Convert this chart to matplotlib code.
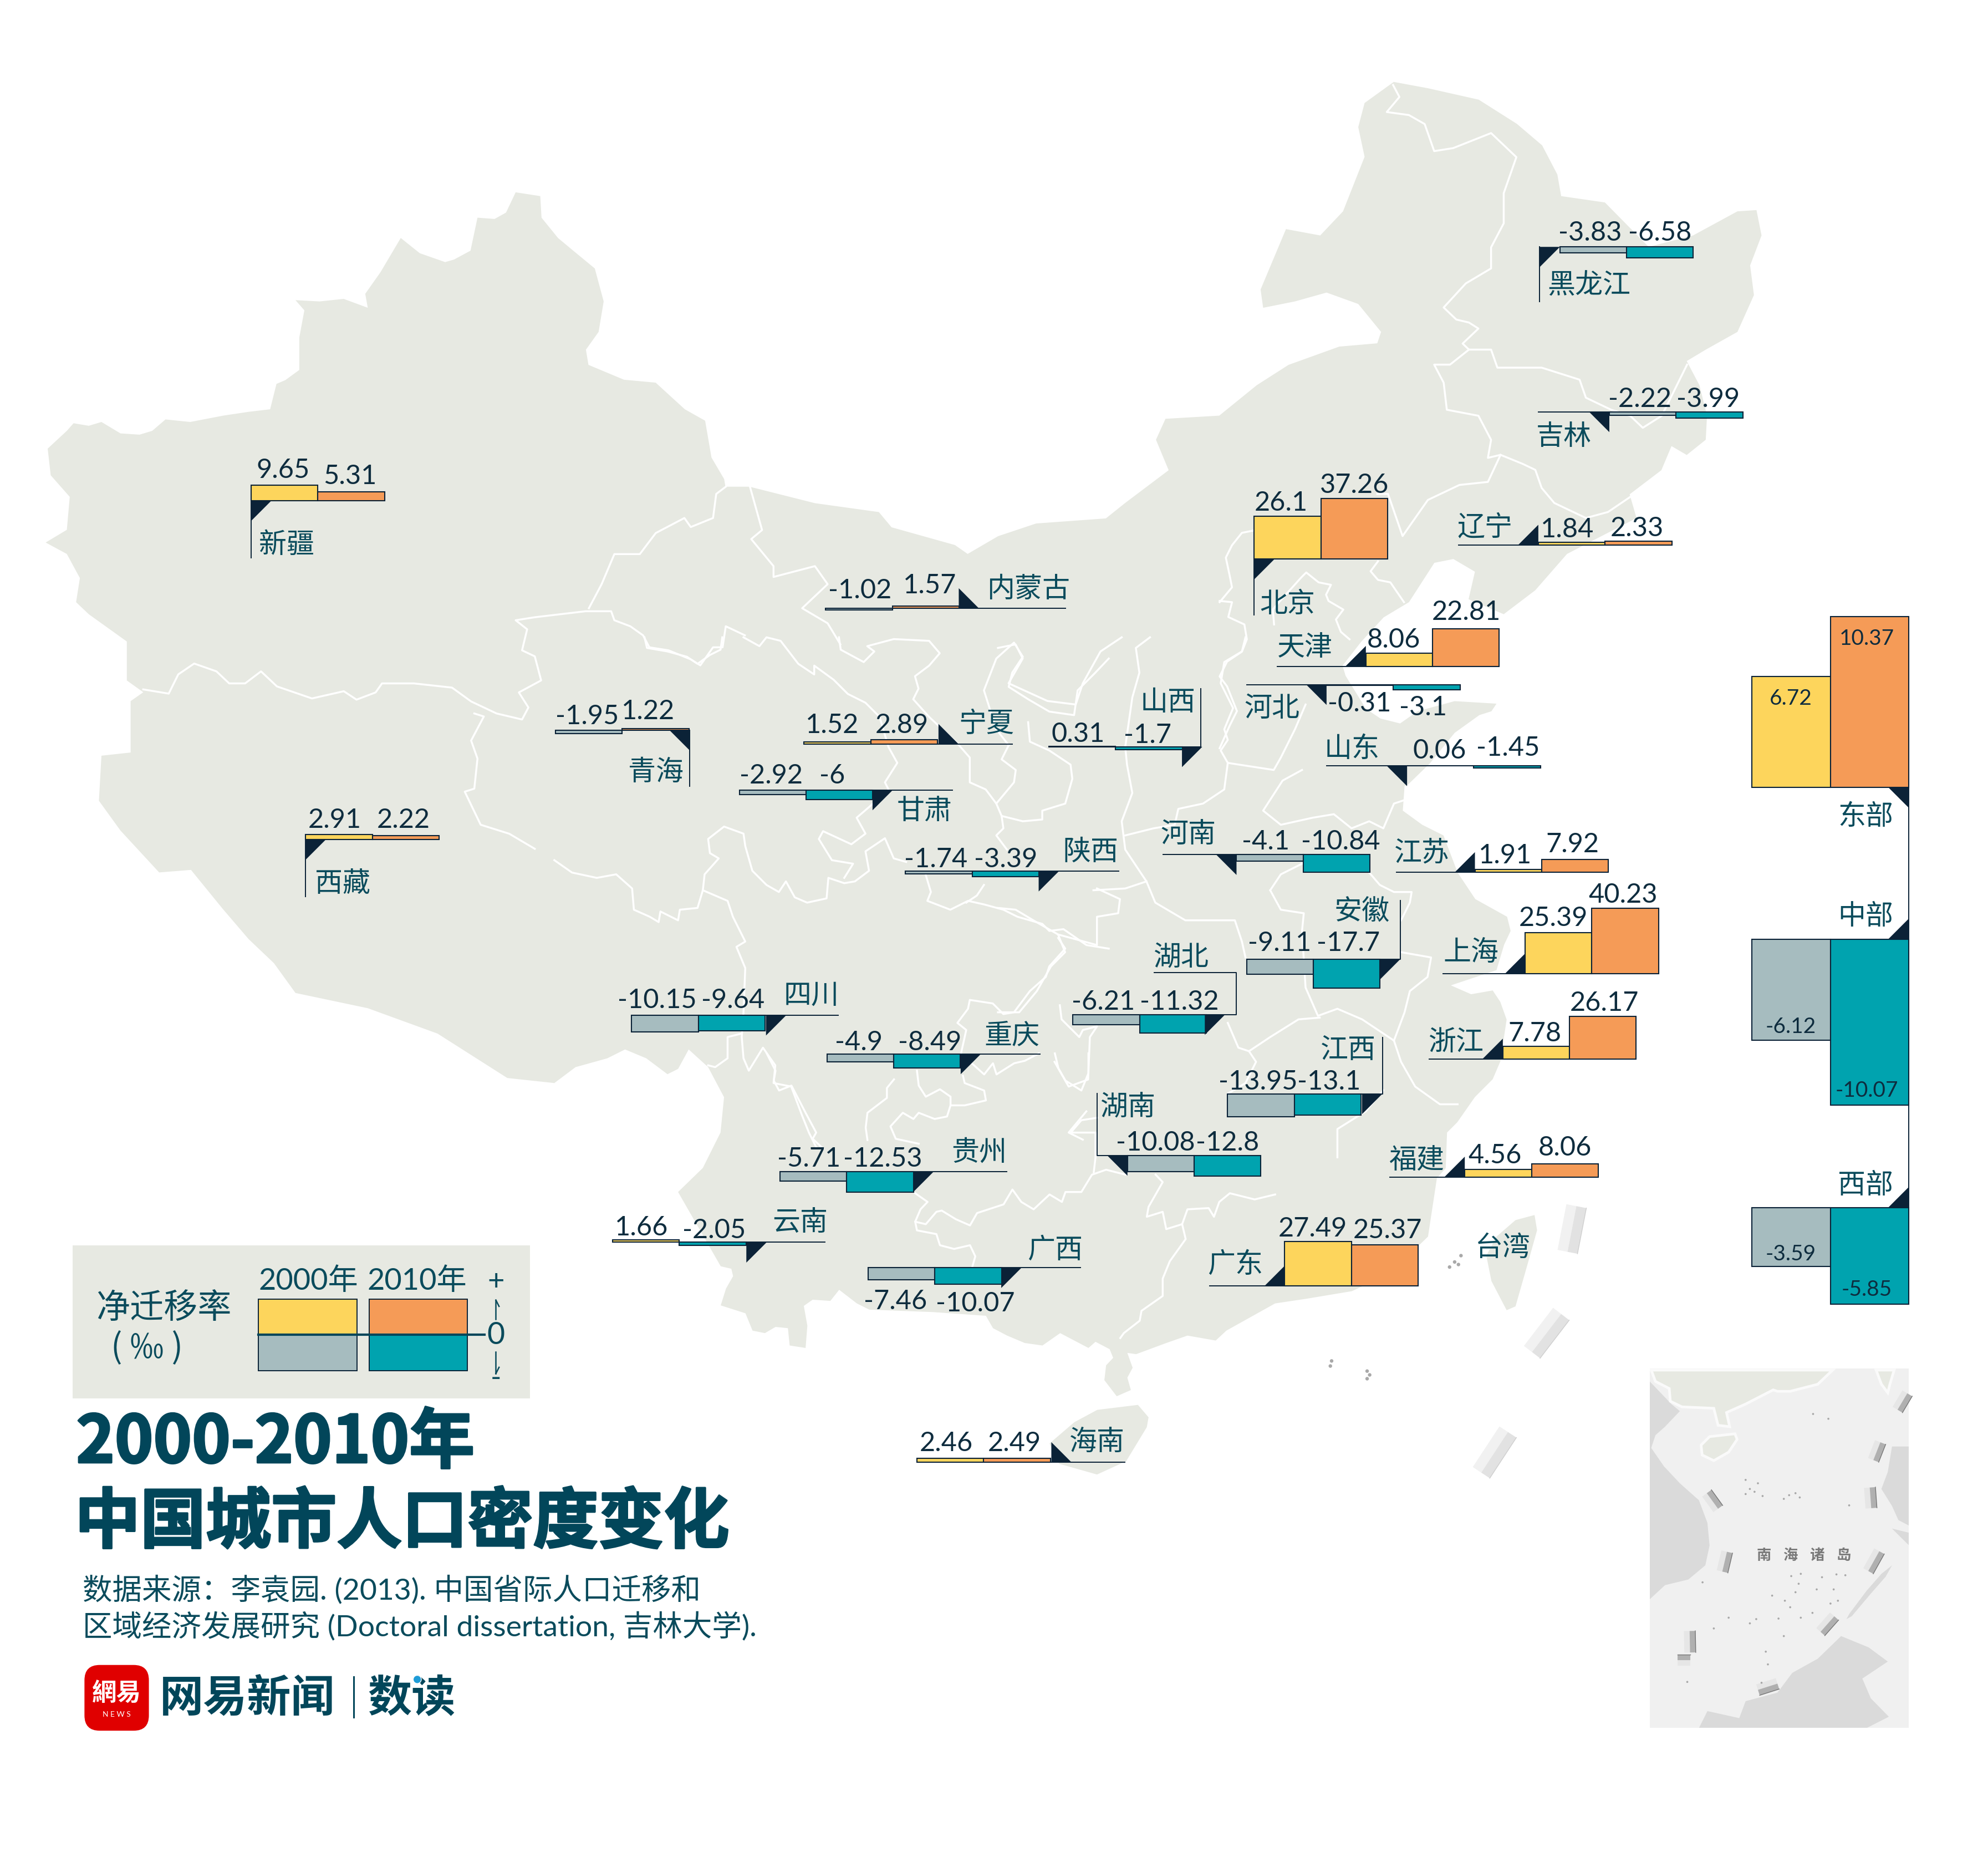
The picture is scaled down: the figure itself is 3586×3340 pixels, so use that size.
#%% import modules
import matplotlib
matplotlib.use('Agg')
import matplotlib.pyplot as plt
import matplotlib.patheffects as pe
from matplotlib.patches import FancyBboxPatch, Polygon, Rectangle, Circle

plt.rcParams['font.family'] = ['Lato', 'Noto Sans CJK SC', 'DejaVu Sans']

# %% data
provinces = ['新疆', '西藏', '青海', '甘肃', '宁夏', '内蒙古', '陕西', '山西', '河北', '天津',
             '北京', '辽宁', '吉林', '黑龙江', '山东', '河南', '江苏', '安徽', '上海', '湖北',
             '四川', '重庆', '江西', '湖南', '贵州', '云南', '广西', '广东', '海南', '福建', '浙江']
rate_2000 = [9.65, 2.91, -1.95, -2.92, 1.52, -1.02, -1.74, 0.31, -0.31, 8.06,
             26.1, 1.84, -2.22, -3.83, 0.06, -4.1, 1.91, -9.11, 25.39, -6.21,
             -10.15, -4.9, -13.95, -10.08, -5.71, 1.66, -7.46, 27.49, 2.46, 4.56, 7.78]
rate_2010 = [5.31, 2.22, 1.22, -6, 2.89, 1.57, -3.39, -1.7, -3.1, 22.81,
             37.26, 2.33, -3.99, -6.58, -1.45, -10.84, 7.92, -17.7, 40.23, -11.32,
             -9.64, -8.49, -13.1, -12.8, -12.53, -2.05, -10.07, 25.37, 2.49, 8.06, 26.17]
regions = ['东部', '中部', '西部']
region_2000 = [6.72, -6.12, -3.59]
region_2010 = [10.37, -10.07, -5.85]

# %% layout: bar x, baseline, triangle (x, y, dx, dy), leader line, name xy, label xys
T = 16
layout = {
    '新疆': (198, 395, (198, 395, T, T), [(198, 395), (198, 440)], (226, 428), (223, 369), (276, 374)),
    '西藏': (241, 662, (241, 662, T, T), [(241, 662), (241, 707)], (270, 695), (264, 645), (318, 645)),
    '青海': (438, 576, (544, 576, -T, T), [(544, 576), (544, 620)], (517, 607), (463, 563), (511, 559)),
    '甘肃': (583, 623, (688, 623, T, T), [(688, 623), (751, 623)], (729, 638), (608, 610), (656, 610)),
    '宁夏': (634, 587, (740, 587, T, -T), [(740, 587), (798, 587)], (778, 569), (656, 570), (711, 570)),
    '内蒙古': (651, 480, (756, 480, T, -T), [(756, 480), (840, 480)], (811, 463), (678, 464), (733, 460)),
    '陕西': (714, 687, (819, 687, T, T), [(819, 687), (882, 687)], (860, 670), (738, 676), (793, 676)),
    '山西': (827, 589, (932, 589, T, T), [(932, 589), (947, 589), (947, 543)], (921, 552), (850, 577), (905, 578)),
    '河北': (1046, 540, (1046, 540, -T, T), [(983, 540), (1046, 540)], (1003, 557), (1072, 553), (1122, 556)),
    '天津': (1077, 525.5, (1077, 525.5, -T, -T), [(1007, 525.5), (1077, 525.5)], (1029, 509), (1099, 503), (1156, 481)),
    '北京': (989, 441, (989, 441, T, T), [(989, 441), (989, 485)], (1015, 475), (1010, 395), (1068, 381)),
    '辽宁': (1213, 430, (1213, 430, -T, -T), [(1150, 430), (1213, 430)], (1171, 414), (1236, 416), (1291, 415)),
    '吉林': (1269, 325, (1269, 325, -T, T), [(1213, 325), (1269, 325)], (1233, 343), (1293, 313), (1347, 313)),
    '黑龙江': (1230, 195, (1214, 195, T, T), [(1214, 195), (1214, 238)], (1253, 224), (1254, 182), (1309, 182)),
    '山东': (1109.5, 604, (1109.5, 604, -T, T), [(1046, 604), (1109.5, 604)], (1066, 589), (1135, 590), (1189, 588)),
    '河南': (975, 674, (975, 674, -T, T), [(917, 674), (975, 674)], (937, 656), (998, 662), (1057, 662)),
    '江苏': (1163, 688, (1163, 688, -T, -T), [(1101, 688), (1163, 688)], (1121, 671), (1187, 673), (1240, 664)),
    '安徽': (983, 756.5, (1088, 756.5, T, T), [(1088, 756.5), (1104, 756.5), (1104, 710)], (1074, 717), (1009, 742), (1063, 742)),
    '上海': (1202.5, 768, (1202.5, 768, -T, -T), [(1138, 768), (1202.5, 768)], (1160, 749), (1225, 722), (1280, 704)),
    '湖北': (846, 800, (950, 800, T, T), [(950, 800), (975, 800), (975, 767), (910, 767)], (931, 753), (870, 788), (930, 788)),
    '四川': (498, 800.5, (604, 800.5, T, T), [(604, 800.5), (661, 800.5)], (640, 783), (518, 787), (578, 787)),
    '重庆': (652, 831, (757.5, 831, T, T), [(757.5, 831), (820, 831)], (798, 815), (677, 820), (733, 820)),
    '江西': (968, 862.5, (1074, 862.5, T, T), [(1074, 862.5), (1090, 862.5), (1090, 818)], (1063, 826), (992, 851), (1048, 851)),
    '湖南': (889, 911, (889, 911, -T, T), [(889, 911), (865, 911), (865, 862)], (889, 871), (911, 899), (968, 899)),
    '贵州': (615, 924, (720, 924, T, T), [(720, 924), (794, 924)], (772, 907), (638, 912), (696, 912)),
    '云南': (483, 979.5, (588.5, 979.5, T, T), [(588.5, 979.5), (650.5, 979.5)], (631, 962), (506, 966), (563, 968)),
    '广西': (684.5, 999.5, (789.5, 999.5, T, T), [(789.5, 999.5), (852, 999.5)], (832, 984), (706, 1024), (769, 1026)),
    '广东': (1013, 1014, (1013, 1014, -T, -T), [(954, 1014), (1013, 1014)], (974, 995), (1035, 967), (1094, 968)),
    '海南': (723, 1153, (829, 1153, T, -T), [(829, 1153), (887, 1153)], (865, 1135), (746, 1136), (800, 1136)),
    '福建': (1155, 928, (1155, 928, -T, -T), [(1096, 928), (1155, 928)], (1117, 913), (1179, 909), (1234, 903)),
    '浙江': (1185, 835, (1185, 835, -T, -T), [(1127, 835), (1185, 835)], (1148, 820), (1210, 813), (1265, 789)),
}
region_layout = {
    '东部': (621, (1505, 621, -T, T), (1471, 642), (1412, 549), (1472, 502)),
    '中部': (740.5, (1505, 740.5, -T, -T), (1471, 721), (1412, 808), (1472, 858)),
    '西部': (952, (1505, 952, -T, -T), (1471, 933), (1412, 987), (1472, 1015)),
}
bar_w = 52.6
bar_k = 1.285
region_w = 61.8
region_k = 13


# %% map shapes, traced on crops of the picture
def crop1(p):
    return [(x * .502, 43.7 + y * .474) for x, y in p]


def crop2(p):
    return [(786.9 + x * .4985, 43.7 + y * .474) for x, y in p]


def crop7(p):
    return [(961.7 + x * .1951, 371.6 + y * .1951) for x, y in p]


def crop_a(p):
    return [(437.1 + x * .2788, 502.7 + y * .2788) for x, y in p]


def crop_b(p):
    return [(786.9 + x * .2788, 502.7 + y * .2788) for x, y in p]


def crop_c(p):
    return [(568.3 + x * .2788, 830.6 + y * .1951) for x, y in p]


def crop_inset(p):
    return [(1267.7 + x * .1673, 1049 + y * .223) for x, y in p]


outline = [
    (37.6, 354), (52.7, 340), (58, 334), (70, 336), (80, 333), (95, 342), (110, 343), (120, 340), (130.5, 331), (150, 333), (176, 328),
    (196, 325), (213, 323), (218, 303), (225, 300), (236, 292), (236, 266.5), (240, 245), (233, 237), (252, 238), (271, 236), (290, 243),
    (288, 232), (300, 215), (316, 188), (331, 200), (351, 207), (358, 205), (371, 198), (376.5, 172), (390, 173), (399, 168), (406.6, 152),
    (426, 155), (427, 172), (440, 188), (452, 198), (469, 212), (476, 238), (472, 262), (462, 276), (464, 288), (492, 299.7), (517, 302),
    (540, 323), (556, 332), (561, 361), (571, 378), (572, 384), (591, 384), (642.6, 397), (693, 404), (703, 416), (753, 430), (763, 437),
    (787, 423), (817, 413), (872, 409), (887, 397), (921.5, 371), (911.5, 347), (919, 330.5), (961.4, 328), (991, 304), (1016, 288),
    (1056, 273.6), (1086, 271), (1089, 262), (1071, 240), (1046, 231), (1021, 238), (996, 243), (994, 228.6), (1014, 181), (1041, 186),
    (1059, 167), (1076, 124), (1071, 100.6), (1076, 81.6), (1099, 65), (1126, 70), (1166, 79), (1196, 98), (1216, 115), (1228, 138),
    (1231, 155), (1265.5, 160), (1300, 195), (1335, 186), (1370, 167), (1385, 166), (1389, 186), (1380, 209.6), (1383, 233), (1370, 262),
    (1345, 276), (1330, 285), (1340, 304), (1346, 328), (1345, 347), (1330, 359), (1318, 352), (1310, 371), (1285, 390), (1290.4, 408.7),
    (1235.6, 437), (1210.6, 465.6), (1185.7, 484.5), (1158, 472.7), (1163, 451), (1146, 441), (1131, 444), (1111, 475), (1091, 487),
    (1073.5, 506), (1058.6, 525), (1061, 533), (1077, 559), (1088.5, 566.7), (1104, 570.6), (1117.7, 561), (1147, 553), (1180, 555),
    (1176, 561), (1166.5, 564), (1147, 578), (1127.5, 602), (1110, 619),
] + crop_b([(1150, 420), (1145, 490), (1200, 530), (1260, 560), (1300, 665), (1350, 740), (1440, 790), (1450, 830)]) + [
    (1186, 745), (1180, 765), (1144, 777), (1160, 784), (1177, 781), (1183, 790), (1188, 804), (1183, 837),
    (1177, 851), (1163, 865), (1149, 885), (1141, 893), (1140, 921), (1133, 929), (1126, 975), (1096, 1004), (1066, 1018), (1030, 1024),
] + crop_c([(1568, 1010), (1430, 1120), (1400, 1160), (1320, 1140), (1260, 1170), (1175, 1215), (1150, 1210), (1165, 1270), (1150, 1310),
            (1160, 1360), (1120, 1385), (1085, 1320), (1090, 1260), (1110, 1230), (1100, 1195), (1060, 1165), (1040, 1190), (1000, 1160),
            (960, 1130), (910, 1180), (860, 1170), (810, 1140), (770, 1110), (750, 1060), (600, 1045), (420, 1035), (385, 1010), (335, 955),
            (310, 1000), (260, 995), (235, 1020), (245, 1100), (240, 1190), (195, 1180), (190, 1110), (155, 1105), (125, 1130), (90, 1120),
            (70, 1050), (0, 1018), (15, 950), (35, 900), (30, 870), (0, 860)]) + crop_a([
                (350, 1568), (420, 1500), (470, 1400), (480, 1300), (435, 1215), (380, 1165), (350, 1220), (320, 1235), (260, 1190),
                (200, 1165), (150, 1190), (60, 1215), (0, 1260)]) + [
    (400, 850), (345, 815), (290, 795), (233, 783), (216, 759.5), (196, 740.5), (175.7, 716.8), (150.6, 686), (125.5, 688), (95, 655),
    (78, 631.5), (80, 596), (103, 593.5), (103, 553), (113, 546), (100, 536.7), (100, 506), (70, 484.5), (60, 475), (63, 456), (52.7, 437),
    (36, 428), (52.7, 418), (55, 392), (40, 375),
]
taiwan = [(1195, 962), (1210, 958), (1212, 970), (1205, 995), (1195, 1030), (1188, 1033), (1176, 1010), (1172, 990), (1180, 975)]
hainan = crop_c([(1000, 1490), (1065, 1440), (1180, 1420), (1210, 1470), (1205, 1510)]) + [(888, 1152), (865, 1162.5), (835, 1154), (827.6, 1138)]

borders = [
    crop1([(225, 1055), (265, 1062), (280, 1030), (305, 1012), (340, 1025), (360, 1045), (385, 1045), (410, 1025),
           (435, 1050), (490, 1070), (540, 1058), (560, 1072), (590, 1060), (600, 1045), (650, 1045), (710, 1052),
           (740, 1075), (780, 1095), (820, 1105), (830, 1085), (815, 1060), (850, 1040), (840, 1000), (820, 990),
           (828, 955), (810, 940), (840, 935), (920, 925), (960, 925), (965, 940), (990, 950), (1010, 965),
           (1020, 985), (1050, 990), (1085, 1005), (1100, 1015), (1120, 985), (1135, 985), (1140, 950), (1170, 965)]),
    crop1([(925, 920), (945, 880), (965, 830), (1005, 830), (1030, 795), (1075, 770), (1085, 785), (1120, 770),
           (1125, 730), (1140, 718)]),
    crop1([(1178, 718), (1197, 790), (1180, 805), (1215, 850), (1215, 868), (1280, 850), (1300, 880), (1260, 920),
           (1300, 945), (1320, 980)]),
    crop1([(745, 1095), (760, 1100), (740, 1140), (750, 1170), (745, 1220), (730, 1225), (755, 1280), (800, 1295), (840, 1320)]),
    # middle of the map
    crop_a([(255, 0), (262, 30), (320, 40), (375, 55), (405, 75), (440, 50), (470, 35), (475, 0)]),
    crop_a([(535, 0), (580, 25), (600, 0), (640, 10), (690, 75), (735, 105), (735, 80), (790, 120), (830, 160), (880, 185), (920, 225),
            (945, 310), (970, 355), (935, 410), (945, 430), (890, 480), (855, 510), (880, 555), (840, 585), (760, 548), (748, 570),
            (785, 630), (845, 640), (820, 680)]),
    crop_a([(0, 630), (50, 665), (120, 680), (175, 670), (220, 710), (225, 770), (270, 790), (295, 805), (300, 775), (350, 800), (355, 770),
            (405, 765), (420, 715), (425, 670), (465, 625), (440, 610), (435, 570), (480, 535), (535, 555), (540, 590), (560, 660),
            (600, 700), (635, 720), (655, 690), (680, 735), (715, 750), (770, 738), (775, 680), (820, 695), (850, 690), (890, 660),
            (880, 605), (935, 568), (960, 625), (995, 635)]),
    crop_a([(420, 715), (490, 745), (505, 790), (540, 860), (515, 875), (540, 935), (535, 1060), (530, 1130), (535, 1190), (550, 1225),
            (590, 1160), (625, 1210), (620, 1260), (670, 1270), (700, 1350), (720, 1400), (740, 1440)]),
    crop_a([(530, 1120), (490, 1130), (490, 1190), (455, 1215), (435, 1210)]),
    crop_a([(1050, 670), (1065, 720), (1055, 745), (1120, 770), (1170, 745), (1215, 755), (1270, 770), (1310, 790), (1380, 810), (1400, 830),
            (1440, 825), (1505, 870), (1568, 880)]),
    crop_a([(1215, 700), (1195, 730), (1165, 750)]),
    crop_a([(1425, 850), (1445, 880), (1400, 930), (1390, 960), (1345, 1000), (1300, 1060), (1270, 1065), (1240, 1035), (1175, 1025),
            (1170, 1050), (1140, 1090), (1165, 1110), (1150, 1177)]),
    crop_a([(805, 0), (810, 35), (875, 70), (905, 40), (885, 25), (960, 5), (1060, 10), (1090, 45), (1060, 80), (1020, 110), (1030, 145),
            (1015, 175), (1060, 225), (1140, 300), (1175, 340), (1175, 410), (1220, 430), (1250, 470), (1300, 410), (1305, 375),
            (1265, 345), (1285, 305)]),
    crop_a([(1285, 305), (1250, 260), (1215, 150), (1250, 60), (1300, 15), (1325, 55), (1295, 100), (1285, 140), (1340, 175), (1400, 210),
            (1470, 220), (1480, 150), (1530, 100), (1568, 60)]),
    crop_a([(1340, 240), (1345, 295), (1400, 320), (1460, 360), (1465, 400), (1445, 470), (1380, 490), (1380, 515), (1325, 520), (1265, 505),
            (1270, 540), (1250, 560), (1280, 600)]),
    crop_a([(1250, 470), (1265, 505)]),
    crop_c([(130, 0), (155, 70), (150, 110), (165, 150), (200, 130), (240, 240), (270, 320), (260, 345), (290, 385)]),
    crop_c([(490, 105), (470, 140), (470, 180), (415, 240), (410, 300), (415, 350)]),
    crop_c([(555, 70), (560, 130), (580, 175), (620, 145), (650, 175), (650, 210), (690, 210), (750, 190), (745, 150), (690, 120), (685, 90)]),
    crop_c([(650, 210), (640, 255), (605, 265), (560, 240), (545, 265), (515, 240), (480, 295), (495, 345), (560, 365)]),
    crop_c([(550, 565), (585, 600), (565, 630), (550, 680), (580, 690), (610, 640), (625, 635), (665, 670), (705, 695), (725, 645), (800, 610),
            (825, 550), (850, 600), (885, 630), (930, 570), (965, 600), (975, 560), (1020, 560), (1050, 490), (1090, 470), (1145, 490)]),
    crop_c([(550, 680), (555, 715), (610, 730), (620, 775), (660, 790), (705, 775), (720, 820), (710, 870)]),
    crop_c([(1230, 490), (1250, 520), (1210, 620), (1205, 660), (1250, 640), (1260, 710), (1305, 690), (1320, 630), (1380, 625), (1395, 660),
            (1410, 600), (1440, 565), (1510, 590), (1568, 570)]),
    crop_c([(1305, 690), (1315, 750), (1270, 840), (1250, 910), (1250, 980), (1190, 1040), (1185, 1080), (1140, 1130), (1130, 1150)]),
    crop_c([(945, 0), (955, 60), (975, 110), (1020, 150), (1040, 80), (1040, 0)]),
    crop_c([(1065, 260), (1020, 270), (990, 320), (1060, 320), (1060, 420), (1055, 480)]),
    crop_c([(710, 40), (745, 85), (770, 40), (780, 85), (830, 40), (860, 30), (900, 0)]),
    crop_b([(700, 0), (690, 40), (640, 70), (630, 130), (665, 200), (640, 260), (650, 290), (630, 320), (650, 355), (780, 375), (800, 340),
            (840, 260), (870, 190)]),
    crop_b([(650, 355), (640, 430), (580, 470), (510, 485), (500, 530), (440, 540), (360, 560)]),
    crop_b([(0, 30), (50, 20), (70, 60), (30, 130), (140, 180), (220, 190), (240, 130), (290, 40), (350, 0)]),
    crop_b([(430, 0), (390, 30), (400, 100), (380, 170), (360, 310), (365, 360), (380, 440), (350, 520), (360, 600), (420, 690), (445, 750),
            (530, 800), (670, 800), (690, 860), (700, 905)]),
    crop_b([(770, 715), (800, 670), (860, 640)]),
    crop_b([(770, 715), (800, 770), (865, 780), (860, 830), (870, 990), (905, 1070), (960, 1050), (1030, 1080), (1060, 1100), (1120, 1140),
            (1140, 1200), (1180, 1270), (1250, 1320), (1300, 1320)]),
    crop_b([(1050, 665), (1080, 700), (1120, 720), (1170, 720), (1165, 750), (1140, 800)]),
    crop_b([(860, 375), (805, 405), (750, 490), (800, 530), (890, 510), (950, 500), (1000, 540), (1050, 520), (1090, 540), (1120, 470), (1150, 460)]),
    crop_b([(1140, 890), (1225, 905), (1215, 960), (1165, 1000), (1150, 1060), (1120, 1140)]),
    crop_b([(280, 710), (345, 740), (340, 780), (280, 790), (280, 870), (170, 840), (190, 890), (150, 930), (110, 1000), (60, 1060), (0, 1060)]),
    crop_b([(0, 765), (50, 770), (100, 800), (170, 840)]),
    crop_b([(270, 715), (360, 710), (420, 690)]),
    crop_b([(175, 1040), (180, 1080), (230, 1130), (240, 1110), (280, 1100), (260, 1130), (255, 1250), (200, 1270), (160, 1200)]),
    crop_b([(650, 1090), (680, 1160), (710, 1170), (770, 1130), (850, 1080), (910, 1075)]),
    crop_b([(710, 1170), (730, 1200), (700, 1260), (650, 1290)]),
    crop_b([(1090, 1280), (1040, 1340), (960, 1390), (960, 1470)]),
    crop_b([(250, 1340), (200, 1400), (240, 1420)]),
    # north east
    crop2([(625, 50), (635, 70), (615, 95), (650, 100), (675, 115), (690, 160), (720, 155), (780, 130), (820, 170),
           (800, 230), (800, 280), (780, 320), (780, 355), (740, 380), (705, 420), (725, 440), (745, 445), (760, 455),
           (735, 480), (745, 490), (780, 490), (790, 520), (860, 520), (890, 530), (920, 540), (930, 570), (970, 590),
           (1000, 600), (1020, 620), (1050, 600), (1090, 515)]),
    crop2([(745, 490), (715, 515), (690, 515), (705, 545), (710, 590), (760, 600), (780, 640), (775, 670), (795, 665),
           (830, 680), (850, 690), (860, 720), (880, 745), (930, 770), (965, 760), (1000, 735)]),
    crop2([(795, 665), (775, 710), (730, 715), (680, 740), (640, 800), (617, 730), (600, 730)]),
    crop7([(140, 240), (90, 250), (50, 300), (25, 350), (40, 420), (50, 470), (0, 530)]),
    crop7([(640, 365), (610, 405), (640, 440), (690, 450), (745, 530)]),
    crop7([(220, 620), (215, 560), (240, 530), (330, 430), (350, 410), (400, 450), (450, 460), (430, 500), (440, 525),
           (500, 560), (470, 600), (490, 650), (525, 680)]),
    crop7([(0, 525), (50, 530), (35, 590), (100, 620), (110, 680), (90, 730), (30, 770), (0, 830), (30, 870), (70, 970),
           (40, 1030), (0, 1120)]),
]

inset_gray = [
    [(198, 180), (300, 260), (340, 285), (270, 340), (225, 370), (205, 415), (265, 480), (340, 540), (430, 600),
     (470, 680), (480, 760), (460, 830), (380, 880), (270, 900), (198, 950)],
    [(430, 1405), (470, 1345), (620, 1370), (650, 1310), (800, 1280), (870, 1210), (990, 1160), (1100, 1080),
     (1230, 1120), (1320, 1170), (1200, 1230), (1240, 1300), (1325, 1365), (1220, 1405)],
    [(1421, 410), (1340, 410), (1320, 500), (1290, 560), (1340, 620), (1370, 670), (1421, 690)],
    [(1340, 830), (1290, 860), (1220, 920), (1140, 1000), (1125, 1020), (1150, 1010), (1240, 930), (1310, 870)],
    [(1340, 700), (1421, 715), (1421, 760), (1380, 730)],
]
inset_land = [
    [(205, 140), (225, 180), (290, 205), (295, 250), (350, 270), (500, 275), (520, 335), (575, 340), (560, 290),
     (650, 260), (780, 210), (800, 215), (860, 215), (990, 190), (1060, 140)],
    [(440, 405), (480, 375), (600, 365), (610, 385), (570, 430), (500, 460), (445, 440)],
    [(1265, 140), (1350, 140), (1330, 190), (1320, 220), (1290, 190)],
]
inset_dashes = [
    [(1412, 222), (1366, 280)], [(1285, 395), (1252, 458)], [(1235, 555), (1242, 628)], [(1280, 780), (1228, 850)],
    [(1068, 1010), (1003, 1065)], [(800, 1248), (708, 1270)], [(386, 1062), (388, 1138)], [(330, 1165), (390, 1165)],
    [(562, 782), (540, 852)], [(467, 575), (520, 630)],
]
inset_islets = [(968, 295), (1040, 312), (650, 528), (708, 540), (670, 560), (692, 570), (730, 585), (650, 578),
                (855, 582), (885, 575), (830, 595), (905, 590), (1138, 618), (447, 890), (775, 937), (985, 915),
                (1065, 915), (900, 895), (885, 925), (670, 1035), (700, 1020), (500, 1053), (570, 1015), (745, 1135),
                (755, 1180), (725, 1245), (375, 1242), (910, 1015), (805, 1018), (830, 1080), (1010, 872), (1078, 862),
                (1120, 865), (865, 868), (910, 860), (835, 955), (860, 978), (965, 998), (1050, 965), (1085, 955)]
main_dashes = [[(1243, 951), (1236, 987)], [(1231, 1036), (1208, 1066)], [(1189, 1129), (1168, 1161)]]
main_islets = [(1147, 995), (1152, 990), (1143, 999), (1150, 997), (1050, 1073), (1049, 1077), (1078, 1081), (1080, 1084), (1078, 1087)]

# %% colours
YELLOW = '#FDD55C'
ORANGE = '#F59B57'
GREY = '#A6BCBF'
TEAL = '#00A3AF'
DARK = '#0B2237'
INK = '#0E2C3E'
NAME = '#0A4B5C'
TITLE = '#02465A'
LAND = '#E7E9E2'

cjk = ['Noto Sans CJK SC', 'DejaVu Sans']
num = ['Lato', 'Noto Sans CJK SC', 'DejaVu Sans']

# %% figure
fig = plt.figure(figsize=(35.87, 33.41), dpi=100)
ax = fig.add_axes([0, 0, 1, 1])
ax.set_xlim(0, 1568)
ax.set_ylim(1460, 0)
ax.axis('off')


def draw_dash(p0, p1, width, zorder, light='#E6E6E6', mid='#B0B0B0', edge='#777777'):
    # one band of the boundary mark: pale half, grey half, thin dark rim
    (x0, y0), (x1, y1) = p0, p1
    length = ((x1 - x0) ** 2 + (y1 - y0) ** 2) ** .5
    nx, ny = -(y1 - y0) / length, (x1 - x0) / length
    for off, c in [(.5, light), (-.5, mid)]:
        o = off * width
        q = [(x0 + nx * (o - width / 2), y0 + ny * (o - width / 2)),
             (x1 + nx * (o - width / 2), y1 + ny * (o - width / 2)),
             (x1 + nx * (o + width / 2), y1 + ny * (o + width / 2)),
             (x0 + nx * (o + width / 2), y0 + ny * (o + width / 2))]
        ax.add_patch(Polygon(q, closed=True, fc=c, ec='none', zorder=zorder))
    ax.plot([x0 - nx * width, x1 - nx * width], [y0 - ny * width, y1 - ny * width], color=edge, lw=1, zorder=zorder)


# land
for shape in (outline, taiwan, hainan):
    ax.add_patch(Polygon(shape, closed=True, fc=LAND, ec='none', zorder=1))
for b in borders:
    xs, ys = zip(*b)
    ax.plot(xs, ys, color='white', lw=2.5, zorder=2, solid_joinstyle='round')
for d in main_dashes:
    draw_dash(d[0], d[1], 8, 1, light='#F1F1F1', mid='#E2E2E2', edge='#CFCFCF')
for x, y in main_islets:
    ax.add_patch(Circle((x, y), 1.4, fc='#A9A9A9', ec='none', zorder=2))


def draw_tri(tri):
    cx, cy, dx, dy = tri
    ax.add_patch(Polygon([(cx, cy), (cx + dx, cy), (cx, cy + dy)], closed=True, fc=DARK, ec='none', zorder=5))


def draw_label(xy, s, fs, color, fam, weight='normal'):
    ax.text(xy[0], xy[1] + 1.5, s, fontsize=fs, color=color, family=fam, weight=weight, ha='center', va='center', zorder=6)


# province bars
for name, v0, v1 in zip(provinces, rate_2000, rate_2010):
    x, base, tri, line, name_xy, lab0, lab1 = layout[name]
    xs, ys = zip(*line)
    ax.plot(xs, ys, color=DARK, lw=1.4, zorder=3)
    c0 = YELLOW if v0 >= 0 else GREY
    c1 = ORANGE if v1 >= 0 else TEAL
    ax.bar(x, -v0 * bar_k, width=bar_w, bottom=base, align='edge', color=c0, edgecolor=DARK, lw=1.5, zorder=4)
    ax.bar(x + bar_w, -v1 * bar_k, width=bar_w, bottom=base, align='edge', color=c1, edgecolor=DARK, lw=1.5, zorder=4)
    draw_tri(tri)
    draw_label(name_xy, name, 36, NAME, cjk)
    draw_label(lab0, f'{v0:g}', 35, INK, num)
    draw_label(lab1, f'{v1:g}', 35, INK, num)
draw_label((1185, 982), '台湾', 36, NAME, cjk)

# region bars
region_x = 1381.4
ax.plot([1505, 1505], [621, 1027], color=DARK, lw=1.4, zorder=3)
for name, v0, v1 in zip(regions, region_2000, region_2010):
    base, tri, name_xy, lab0, lab1 = region_layout[name]
    c0 = YELLOW if v0 >= 0 else GREY
    c1 = ORANGE if v1 >= 0 else TEAL
    ax.bar(region_x, -v0 * region_k, width=region_w, bottom=base, align='edge', color=c0, edgecolor=DARK, lw=1.5, zorder=4)
    ax.bar(region_x + region_w, -v1 * region_k, width=region_w, bottom=base, align='edge', color=c1, edgecolor=DARK, lw=1.5, zorder=4)
    draw_tri(tri)
    draw_label(name_xy, name, 36, NAME, cjk)
    draw_label(lab0, f'{v0:g}', 28, INK, num)
    draw_label(lab1, f'{v1:g}', 28, INK, num)

# legend
ax.add_patch(Rectangle((57.4, 981.8), 360.6, 120.7, fc=LAND, ec='none', zorder=1))
for x, w, c in [(203.6, 78, YELLOW), (291, 77.6, ORANGE)]:
    ax.add_patch(Rectangle((x, 1024.4), w, 28, fc=c, ec=DARK, lw=1.4, zorder=4))
for x, w, c in [(203.6, 78, GREY), (291, 77.6, TEAL)]:
    ax.add_patch(Rectangle((x, 1052.3), w, 28.4, fc=c, ec=DARK, lw=1.4, zorder=4))
ax.plot([203.6, 382], [1052.3, 1052.3], color=TITLE, lw=3, zorder=5)
draw_label((243, 1008), '2000年', 39, NAME, num)
draw_label((329, 1008), '2010年', 39, NAME, num)
draw_label((129, 1030), '净迁移率', 44, NAME, cjk)
draw_label((116, 1061), '( ‰ )', 44, NAME, cjk)
draw_label((391, 1009), '+', 38, NAME, num)
draw_label((391, 1051), '0', 40, NAME, num)
draw_label((391, 1085), '-', 38, NAME, num)
ax.plot([391, 391], [1025, 1040], color=NAME, lw=1.8, zorder=5)
ax.plot([391, 393.5], [1025, 1030], color=NAME, lw=1.8, zorder=5)
ax.plot([391, 391], [1066, 1083], color=NAME, lw=1.8, zorder=5)
ax.plot([391, 393.5], [1083, 1078], color=NAME, lw=1.8, zorder=5)

# title block
heavy = [pe.withStroke(linewidth=2.5, foreground=TITLE)]
ax.text(60, 1138, '2000-2010年', fontsize=85, color=TITLE, family=cjk, weight='black', ha='left', va='center', path_effects=heavy)
ax.text(59, 1201, '中国城市人口密度变化', fontsize=85, color=TITLE, family=cjk, weight='black', ha='left', va='center', path_effects=heavy)
ax.text(65, 1253, '数据来源：李袁园. (2013). 中国省际人口迁移和', fontsize=38.5, color=NAME, family=num, ha='left', va='center')
ax.text(65, 1282, '区域经济发展研究 (Doctoral dissertation, 吉林大学).', fontsize=38.5, color=NAME, family=num, ha='left', va='center')

# logo
ax.add_patch(FancyBboxPatch((75, 1321), 34, 35, boxstyle='round,pad=8.4,rounding_size=12', fc='#E00000', ec='none', zorder=3))
ax.text(92, 1335, '網易', fontsize=32, color='white', family=cjk, weight='bold', ha='center', va='center', zorder=4)
ax.text(92, 1351, 'N E W S', fontsize=10, color='white', family=num, ha='center', va='center', zorder=4)
ax.text(126, 1339, '网易新闻', fontsize=57, color=TITLE, family=cjk, weight='bold', ha='left', va='center')
ax.plot([279, 279], [1322, 1354], color=TITLE, lw=2.2)
ax.text(290, 1339, '数读', fontsize=57, color=TITLE, family=cjk, weight='bold', ha='left', va='center')
ax.add_patch(Circle((329, 1324), 3.2, fc='#1E9CD7', ec='white', lw=1, zorder=4))

# inset
ax.add_patch(Rectangle((1301, 1079), 204, 283, fc='#F0F0F0', ec='none', zorder=1))
clip = Rectangle((1301, 1079), 204, 283, transform=ax.transData)
for shape in inset_gray:
    p = Polygon(crop_inset(shape), closed=True, fc='#DADADA', ec='none', zorder=2)
    ax.add_patch(p)
    p.set_clip_path(clip)
for shape in inset_land:
    p = Polygon(crop_inset(shape), closed=True, fc=LAND, ec='#FAFAFA', lw=3.5, zorder=3)
    ax.add_patch(p)
    p.set_clip_path(clip)
for d in inset_dashes:
    p0, p1 = crop_inset(d)
    draw_dash(p0, p1, 4.5, 3)
for x, y in crop_inset(inset_islets):
    ax.add_patch(Circle((x, y), .8, fc='#A8A8A8', ec='none', zorder=3))
for ch, x in zip('南海诸岛', [1390.7, 1411.6, 1432.5, 1453.7]):
    ax.text(x, 1226, ch, fontsize=19, color='#7A7A7A', family=cjk, weight='bold', ha='center', va='center', zorder=4)

fig.savefig('out.png', dpi=100, facecolor='white')
plt.close()
